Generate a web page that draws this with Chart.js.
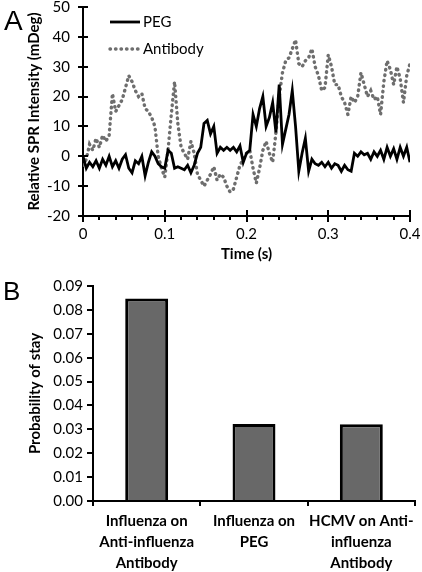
<!DOCTYPE html>
<html>
<head>
<meta charset="utf-8">
<script src="https://cdn.jsdelivr.net/npm/chart.js@4.4.1/dist/chart.umd.min.js"></script>
<style>
  body { margin: 0; background: #fff; }
  #wrap { position: relative; width: 422px; height: 572px; }
  #chartA { position: absolute; left: 0; top: 0; }
  #chartB { position: absolute; left: 0; top: 270px; }
</style>
</head>
<body>
<div id="wrap">
  <canvas id="chartA" width="422" height="270"></canvas>
  <canvas id="chartB" width="422" height="302"></canvas>
</div>
<script>
// Panel A: SPR traces, one sample every 4 ms from 0 to 0.4 s
const sampleStep = 0.004;
const pegValues = [
  0, -4, -2, -3.5, -1.5, -4, -1, -3, 0, -3.5,
  -1.5, -4, -1, 0.5, -4, -5.5, -1.5, -2.5, 0, -6.5,
  -2, 1.5, 0, -2.5, -3.5, -4, 2, 1, -4, -3.5,
  -4, -4.5, -3, -5.5, -3, 1, 3, 11, 12, 7.5,
  10, 1, 3, 2, 3, 2, 3, 1.5, 3.5, -2,
  1, 2, 14, 10, 16, 20, 10, 13, 18, 8,
  24, 4, 9, 14, 22, 10, -5, 1, 6, -5,
  -1, -2.5, -3, -2, -3.5, -2, -4, -2.5, -3, -5,
  -3, -4.5, -5, 1, 0, 1.5, 0.5, 1, -1, 1.5,
  0, 2, -1, 3, 0, 2.5, -1, 3, 0, 3,
  -2
];
const antibodyValues = [
  -3, -1, 4, 2, 6, 3, 7, 5, 7, 21,
  15, 17, 19, 23, 27, 25, 22, 20, 21, 16,
  15, 13, 10, 0, -4, -7, 2, 14, 25, 11,
  3, 1, -1, 5, 1, -6, -8, -10, -8, -6,
  -3.5, -8, -6, -7, -10, -12, -11, -7, -3, -1,
  1, 2, -4, -9, -4, 2, 5, 1, -2, 8,
  20, 28, 32, 33, 36, 39, 31, 30, 32, 33,
  36, 30, 27, 22, 23, 34, 30, 24, 24, 20,
  18, 14, 20, 18, 20, 28, 24, 20, 22, 19,
  20, 14, 25, 32, 29, 24, 30, 26, 18, 27,
  31
];
const seriesNames = ['PEG', 'Antibody'];

// Panel B: probability of stay
const barCategories = [
  ['Influenza on', 'Anti-influenza', 'Antibody'],
  ['Influenza on', 'PEG'],
  ['HCMV on Anti-', 'influenza', 'Antibody']
];
const stayProbability = [0.0848, 0.0322, 0.0321];

Chart.defaults.font.family = 'Lato, "Open Sans", sans-serif';
Chart.defaults.font.size = 15;
Chart.defaults.color = '#000';

const toPoints = vals => vals.map((v, i) => ({ x: +(i * sampleStep).toFixed(3), y: v }));

// draws the big "A"/"B" letters
const panelLabel = {
  id: 'panelLabel',
  afterDraw(chart, args, opts) {
    const ctx = chart.ctx;
    ctx.save();
    ctx.fillStyle = '#000';
    ctx.font = opts.size + 'px "Liberation Sans", Arial, sans-serif';
    ctx.textBaseline = 'top';
    ctx.fillText(opts.text, opts.x, opts.y);
    ctx.restore();
  }
};

// crossing ticks on the y axis, major + minor ticks on the x axis (panel A)
const crossTicks = {
  id: 'crossTicks',
  afterDraw(chart) {
    const { ctx, scales: { x, y } } = chart;
    ctx.save();
    ctx.strokeStyle = '#000';
    ctx.lineWidth = 2;
    ctx.beginPath();
    y.ticks.forEach(t => {
      const py = Math.round(y.getPixelForValue(t.value));
      ctx.moveTo(x.left - 5, py);
      ctx.lineTo(x.left + 5, py);
    });
    for (let i = 0; i <= 20; i++) {
      const px = Math.round(x.getPixelForValue(i * 0.02));
      if (i % 5 === 0) {
        ctx.moveTo(px, y.bottom - 6);
        ctx.lineTo(px, y.bottom + 6);
      } else {
        ctx.moveTo(px, y.bottom);
        ctx.lineTo(px, y.bottom + 4);
      }
    }
    ctx.stroke();
    ctx.restore();
  }
};

// legend drawn inside the plot, top left
const insideLegend = {
  id: 'insideLegend',
  afterDraw(chart) {
    const { ctx, chartArea } = chart;
    ctx.save();
    chart.data.datasets.forEach((ds, i) => {
      const yy = chartArea.top + 15 + i * 27;
      const x0 = chartArea.left + 27;
      ctx.beginPath();
      ctx.strokeStyle = ds.borderColor;
      ctx.lineWidth = ds.borderWidth;
      ctx.lineCap = ds.borderCapStyle || 'butt';
      ctx.setLineDash(ds.borderDash || []);
      ctx.moveTo(x0, yy);
      ctx.lineTo(x0 + 30, yy);
      ctx.stroke();
      ctx.setLineDash([]);
      ctx.fillStyle = '#000';
      ctx.font = '15px Lato, "Open Sans", sans-serif';
      ctx.textBaseline = 'middle';
      ctx.fillText(ds.label, x0 + 33, yy);
    });
    ctx.restore();
  }
};

new Chart(document.getElementById('chartA'), {
  type: 'line',
  data: {
    datasets: [
      {
        label: seriesNames[0],
        data: toPoints(pegValues),
        borderColor: '#000',
        borderWidth: 2.8,
        pointRadius: 0,
        tension: 0
      },
      {
        label: seriesNames[1],
        data: toPoints(antibodyValues),
        borderColor: '#6e6e6e',
        borderWidth: 3.4,
        borderDash: [0.5, 5],
        borderCapStyle: 'round',
        pointRadius: 0,
        tension: 0
      }
    ]
  },
  options: {
    responsive: false,
    animation: false,
    layout: { padding: { top: 7, right: 12, left: 0, bottom: 0 } },
    plugins: {
      legend: { display: false },
      tooltip: { enabled: false },
      panelLabel: { text: 'A', x: 4, y: 8, size: 28 }
    },
    scales: {
      x: {
        type: 'linear',
        min: 0,
        max: 0.4,
        grid: { display: false, drawTicks: false },
        border: { color: '#000', width: 2 },
        ticks: { stepSize: 0.1, padding: 9, font: { size: 15 } },
        title: {
          display: true,
          text: 'Time (s)',
          font: { size: 15, weight: 'bold' },
          padding: { top: 4, bottom: 7 }
        },
        afterFit(scale) {
          scale.height = 54;
          scale.paddingLeft = 0;
          scale.paddingRight = 0;
        }
      },
      y: {
        min: -20,
        max: 50,
        grid: { display: false, drawTicks: false },
        border: { color: '#000', width: 2 },
        ticks: { stepSize: 10, padding: 13, font: { size: 15 } },
        title: {
          display: true,
          text: 'Relative SPR Intensity (mDeg)',
          font: { size: 15, weight: 'bold' },
          padding: { top: 25, bottom: 0 }
        },
        afterFit(scale) {
          scale.width = 83;
          scale.paddingTop = 0;
          scale.paddingBottom = 0;
        }
      }
    }
  },
  plugins: [panelLabel, crossTicks, insideLegend]
});

new Chart(document.getElementById('chartB'), {
  type: 'bar',
  data: {
    labels: barCategories,
    datasets: [{
      data: stayProbability,
      backgroundColor: '#686868',
      borderColor: '#000',
      borderWidth: 3,
      barPercentage: 0.4,
      categoryPercentage: 1
    }]
  },
  options: {
    responsive: false,
    animation: false,
    layout: { padding: { top: 16, right: 7, left: 0, bottom: 0 } },
    plugins: {
      legend: { display: false },
      tooltip: { enabled: false },
      panelLabel: { text: 'B', x: 3, y: 10, size: 26 }
    },
    scales: {
      x: {
        grid: { drawOnChartArea: false, tickLength: 5, color: '#000', lineWidth: 2 },
        border: { color: '#000', width: 2 },
        ticks: {
          padding: 5,
          maxRotation: 0,
          autoSkip: false,
          font: { size: 15, weight: 'bold', lineHeight: 1.4 }
        },
        afterFit(scale) {
          scale.height = 71;
          scale.paddingLeft = 0;
          scale.paddingRight = 0;
        }
      },
      y: {
        min: 0,
        max: 0.09,
        grid: { drawOnChartArea: false, tickLength: 6, color: '#000', lineWidth: 2 },
        border: { color: '#000', width: 2 },
        ticks: {
          stepSize: 0.01,
          padding: 4,
          font: { size: 15 },
          callback: v => v.toFixed(2)
        },
        title: {
          display: true,
          text: 'Probability of stay',
          font: { size: 15, weight: 'bold' },
          padding: { top: 26, bottom: 0 }
        },
        afterFit(scale) {
          scale.width = 93;
          scale.paddingTop = 0;
          scale.paddingBottom = 0;
        }
      }
    }
  },
  plugins: [panelLabel]
});
</script>
</body>
</html>
